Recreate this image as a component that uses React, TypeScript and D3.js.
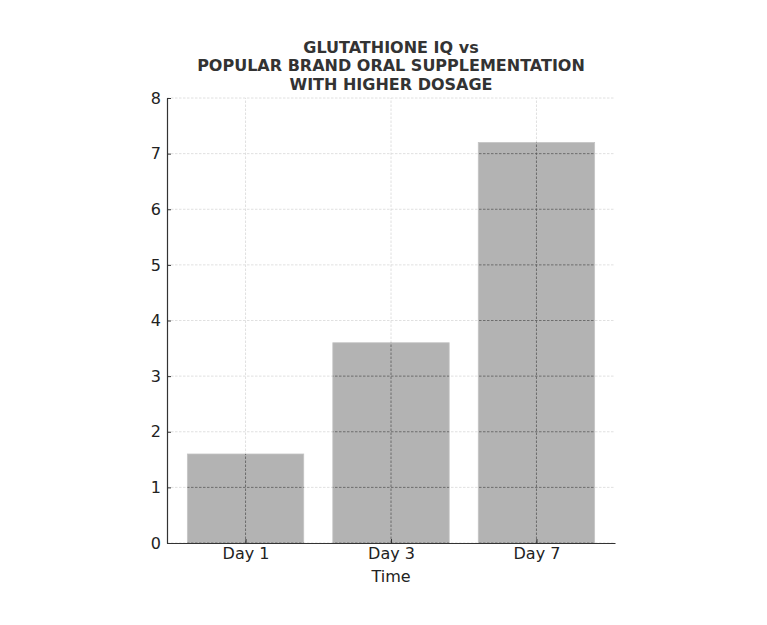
import { useEffect, useRef } from "react";
import * as d3 from "d3";

const categories = ["Day 1", "Day 3", "Day 7"];
const values = [1.6, 3.6, 7.2];
const yTicks = [0, 1, 2, 3, 4, 5, 6, 7, 8];
const titleLines = [
  "GLUTATHIONE IQ vs",
  "POPULAR BRAND ORAL SUPPLEMENTATION",
  "WITH HIGHER DOSAGE",
];
const xLabel = "Time";

const width = 767;
const height = 625;

export default function App() {
  const svgRef = useRef<SVGSVGElement | null>(null);

  useEffect(() => {
    const svg = d3.select(svgRef.current);
    svg.selectAll("*").remove();

    const margin = { top: 98, right: 152, bottom: 82, left: 167 };
    const font = "DejaVu Sans, sans-serif";

    // matplotlib-like x: bars at 0..n-1, width 0.8, 5% margins
    const n = categories.length;
    const lo = -0.4 - 0.05 * (n - 1 + 0.8);
    const hi = n - 1 + 0.4 + 0.05 * (n - 1 + 0.8);
    const x = d3.scaleLinear().domain([lo, hi]).range([margin.left, width - margin.right]);
    const y = d3.scaleLinear().domain([0, 8]).range([height - margin.bottom, margin.top]);
    const bw = x(0.8) - x(0);

    const gridLayer = (g: d3.Selection<SVGGElement, unknown, null, undefined>, color: string) => {
      g.selectAll("line.h")
        .data(yTicks)
        .join("line")
        .attr("class", "h")
        .attr("x1", x(lo))
        .attr("x2", x(hi))
        .attr("y1", (d) => y(d))
        .attr("y2", (d) => y(d))
        .attr("stroke", color)
        .attr("stroke-width", 0.8)
        .attr("stroke-dasharray", "2.5,1.5");
      g.selectAll("line.v")
        .data(categories)
        .join("line")
        .attr("class", "v")
        .attr("x1", (_, i) => x(i))
        .attr("x2", (_, i) => x(i))
        .attr("y1", y(0))
        .attr("y2", y(8))
        .attr("stroke", color)
        .attr("stroke-width", 0.8)
        .attr("stroke-dasharray", "2.5,1.5");
    };

    // light grid behind the bars
    gridLayer(svg.append("g"), "#d8d8d8");

    // bars
    svg
      .append("g")
      .selectAll("rect")
      .data(values)
      .join("rect")
      .attr("x", (_, i) => x(i - 0.4))
      .attr("y", (d) => y(d))
      .attr("width", bw)
      .attr("height", (d) => y(0) - y(d))
      .attr("fill", "#b3b3b3")
      .attr("stroke", "#c4c4c4")
      .attr("stroke-width", 0.8);

    // darker grid over the bars
    const clip = svg.append("defs").append("clipPath").attr("id", "barclip");
    clip
      .selectAll("rect")
      .data(values)
      .join("rect")
      .attr("x", (_, i) => x(i - 0.4))
      .attr("y", (d) => y(d))
      .attr("width", bw)
      .attr("height", (d) => y(0) - y(d));
    gridLayer(svg.append("g").attr("clip-path", "url(#barclip)"), "#5a5a5a");

    // y axis
    const yAxis = svg
      .append("g")
      .attr("transform", `translate(${margin.left},0)`)
      .call(d3.axisLeft(y).tickValues(yTicks).tickFormat(d3.format("d")).tickSizeInner(-4).tickSizeOuter(0).tickPadding(6));
    yAxis.select(".domain").attr("stroke", "#333").attr("stroke-width", 1.2);
    yAxis.selectAll(".tick line").attr("stroke", "#333");
    yAxis.selectAll("text").attr("font-family", font).attr("font-size", 16).attr("fill", "#222");

    // x axis
    const xAxis = svg
      .append("g")
      .attr("transform", `translate(0,${y(0)})`)
      .call(
        d3
          .axisBottom(x)
          .tickValues(d3.range(n))
          .tickFormat((d) => categories[d as number])
          .tickSizeInner(-4)
          .tickSizeOuter(0)
          .tickPadding(5)
      );
    xAxis.select(".domain").attr("stroke", "#333").attr("stroke-width", 1.2);
    xAxis.selectAll(".tick line").attr("stroke", "#333");
    xAxis.selectAll("text").attr("font-family", font).attr("font-size", 16).attr("fill", "#222");

    svg
      .append("text")
      .attr("x", (x(lo) + x(hi)) / 2)
      .attr("y", 582)
      .attr("text-anchor", "middle")
      .attr("font-family", font)
      .attr("font-size", 16)
      .attr("fill", "#222")
      .text(xLabel);

    svg
      .append("g")
      .selectAll("text")
      .data(titleLines)
      .join("text")
      .attr("x", (x(lo) + x(hi)) / 2)
      .attr("y", (_, i) => 53 + i * 18.3)
      .attr("text-anchor", "middle")
      .attr("font-family", font)
      .attr("font-weight", "bold")
      .attr("font-size", 16)
      .attr("fill", "#333")
      .text((d) => d);
  }, []);

  return (
    <svg
      ref={svgRef}
      width={width}
      height={height}
      style={{ position: "absolute", left: 0, top: 0, background: "#fff" }}
    />
  );
}
